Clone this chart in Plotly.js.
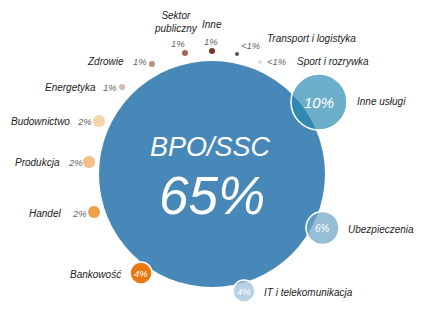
<!DOCTYPE html>
<html>
<head>
<meta charset="utf-8">
<script src="https://cdn.plot.ly/plotly-3.0.1.min.js"></script>
<style>html,body{margin:0;padding:0;background:#fff;}#chart{width:421px;height:317px;}</style>
</head>
<body>
<div id="chart"></div>
<script>
// ---- data ----
var categories = ['BPO/SSC','Inne usługi','Ubezpieczenia','IT i telekomunikacja','Bankowość','Handel','Produkcja','Budownictwo','Energetyka','Zdrowie','Sektor publiczny','Inne','Transport i logistyka','Sport i rozrywka'];
var shareLabels = ['65%','10%','6%','4%','4%','2%','2%','2%','1%','1%','1%','1%','<1%','<1%'];

// ---- layout (positions in pixel-like axis units, sizes, styles) ----
var cx   = [212, 319, 322.5, 244, 141, 94, 89, 99, 122, 152, 185, 212, 237, 260];
var cy   = [174, 102, 228,   291, 273, 212, 162, 121, 87, 64, 53, 51, 54, 62];
var diam = [226, 56,  33,    22,  22,  12, 12, 12, 6, 6, 6, 6, 4, 4];
var fill = ['rgb(72,136,185)','rgba(40,135,178,0.68)','rgba(110,165,200,0.72)','rgba(150,190,215,0.7)',
            'rgb(232,120,15)','rgb(240,158,72)','rgb(245,190,135)','rgb(248,212,170)',
            'rgb(214,184,172)','rgb(184,140,126)','rgb(160,103,90)','rgb(122,52,39)','rgb(85,85,85)','rgb(221,221,221)'];
var lineW = [0, 1.5, 1.5, 1.5, 1.5, 0, 0, 0, 0, 0, 0, 0, 0, 0];

// category label placement
var labX = [null, 355, 346, 262, 123, 63, 62, 72, 98, 126, 176, 212, 265, 295];
var labY = [null, 101, 229, 292, 274, 213, 162, 121, 87, 61, 22, 24, 38, 61];
var labA = [null,'left','left','left','right','right','right','right','right','right','center','center','left','left'];
// share label placement (null = inside the circle)
var pctX = [null, null, null, null, null, 79, 75, 84, 110, 140, 178, 211, 251, 277];
var pctY = [null, null, null, null, null, 213, 162, 121, 87, 61, 43, 41, 45, 61];
var innerSize = [0, 15, 10, 9.5, 9.5];

var FONT = '"Liberation Sans Narrow","Arial Narrow","Liberation Sans",Arial,sans-serif';

var traces = [{
  type: 'scatter', mode: 'markers', x: cx, y: cy,
  hoverinfo: 'skip',
  marker: { size: diam, sizemode: 'diameter', color: fill, opacity: 1,
            line: { color: 'white', width: lineW } }
}];

var ann = [];
function add(x, y, text, anchor, size, color, yanchor) {
  ann.push({ x: x, y: y, xref: 'x', yref: 'y', text: '<i>' + text + '</i>', showarrow: false,
             xanchor: anchor, yanchor: yanchor || 'middle',
             font: { family: FONT, size: size, color: color, style: 'italic' } });
}
// big circle
add(cx[0] - 2, 164, categories[0], 'center', 27, 'white', 'bottom');
add(cx[0], 164, shareLabels[0], 'center', 53, 'white', 'top');
for (var i = 1; i < categories.length; i++) {
  var lab = categories[i] === 'Sektor publiczny' ? 'Sektor<br>publiczny' : categories[i];
  add(labX[i], labY[i], lab, labA[i], 10, '#222');
  if (pctX[i] === null) {
    add(cx[i], cy[i], shareLabels[i], 'center', innerSize[i], 'white');
  } else {
    add(pctX[i], pctY[i], shareLabels[i], 'center', 9.5, '#666');
  }
}

var layout = {
  width: 421, height: 317,
  margin: { l: 0, r: 0, t: 0, b: 0 },
  paper_bgcolor: 'white', plot_bgcolor: 'white',
  showlegend: false,
  xaxis: { range: [0, 421], visible: false, fixedrange: true },
  yaxis: { range: [317, 0], visible: false, fixedrange: true },
  annotations: ann
};
Plotly.newPlot('chart', traces, layout, { staticPlot: true, displayModeBar: false });
</script>
</body>
</html>
